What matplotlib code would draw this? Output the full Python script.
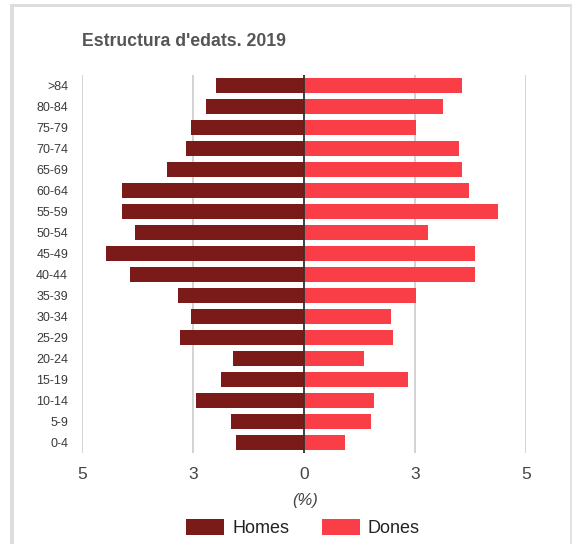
# population pyramid, Homes vs Dones, 2019

import matplotlib
matplotlib.use('Agg')
import matplotlib.pyplot as plt
from matplotlib.patches import Rectangle
import numpy as np

W, H = 572, 544

age_groups = ['0-4', '5-9', '10-14', '15-19', '20-24', '25-29', '30-34', '35-39',
              '40-44', '45-49', '50-54', '55-59', '60-64', '65-69', '70-74',
              '75-79', '80-84', '>84']
homes = [1.54, 1.65, 2.44, 1.88, 1.61, 2.79, 2.55, 2.83,
         3.93, 4.47, 3.81, 4.09, 4.09, 3.09, 2.66, 2.55, 2.21, 1.99]
dones = [0.93, 1.50, 1.58, 2.34, 1.35, 2.00, 1.96, 2.52,
         3.86, 3.86, 2.79, 4.36, 3.71, 3.56, 3.48, 2.52, 3.13, 3.56]

x_ticks = [-5, -2.5, 0, 2.5, 5]
x_labels = ['5', '3', '0', '3', '5']

c_homes = '#7a1a19'
c_dones = '#fa3e48'

plt.rcParams['font.family'] = ['Liberation Sans', 'DejaVu Sans']

fig = plt.figure(figsize=(W / 100, H / 100), dpi=100)

def fx(px):
    return px / W

def fy(py):
    return 1 - py / H

# outer frame like the web widget
fig.patches.append(Rectangle((fx(10), fy(7)), fx(562), 3 / H, transform=fig.transFigure,
                             color='#dddddd', lw=0))
fig.patches.append(Rectangle((fx(10), 0), 4 / W, fy(4), transform=fig.transFigure,
                             color='#dddddd', lw=0))
fig.patches.append(Rectangle((fx(570), 0), 1.5 / W, fy(4), transform=fig.transFigure,
                             color='#e2e2e2', lw=0))

ax = fig.add_axes([fx(82), fy(453), fx(526) - fx(82), fy(75) - fy(453)])

y = np.arange(len(age_groups))
ax.barh(y, -np.array(homes), height=0.72, color=c_homes, label='Homes', zorder=2)
ax.barh(y, dones, height=0.72, color=c_dones, label='Dones', zorder=2)

for t in x_ticks:
    if t != 0:
        ax.axvline(t, color='#cccccc', lw=1.2, zorder=1)
ax.axvline(0, color='#333333', lw=1.3, zorder=3)

ax.set_xlim(-5, 5)
ax.set_ylim(-0.5, len(age_groups) - 0.5)
ax.set_xticks(x_ticks)
ax.set_xticklabels(x_labels, fontsize=12.5, color='#444444')
ax.set_yticks(y)
ax.set_yticklabels(age_groups, fontsize=9, color='#3a3a3a')
ax.tick_params(axis='x', length=0, pad=10)
ax.tick_params(axis='y', length=0, pad=10)
for s in ax.spines.values():
    s.set_visible(False)

fig.text(fx(82), fy(42), "Estructura d'edats. 2019", fontsize=12.7, fontweight='bold',
         color='#555555', ha='left', va='center')
fig.text(fx(305), fy(500), '(%)', fontsize=12, style='italic', color='#444444',
         ha='center', va='center')

leg = fig.legend(loc='center', bbox_to_anchor=(fx(303), fy(528)), ncol=2, frameon=False,
                 fontsize=13, handlelength=2.1, handleheight=1.05, handletextpad=0.45,
                 columnspacing=1.8)
for t in leg.get_texts():
    t.set_color('#222222')

fig.savefig('out.png', dpi=100)
